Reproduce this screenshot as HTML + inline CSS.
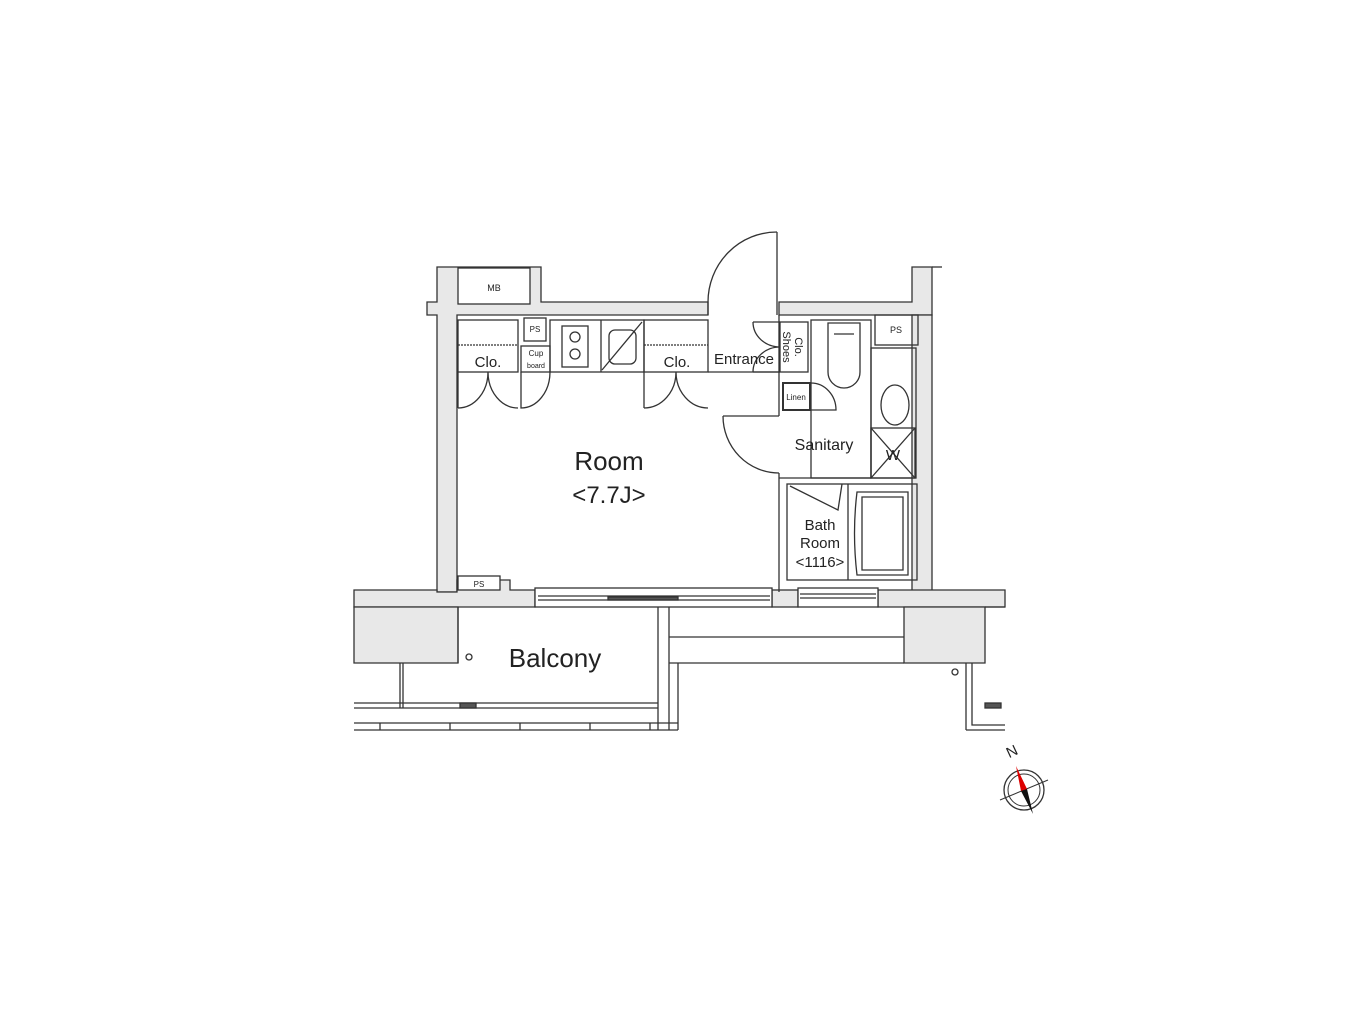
<!DOCTYPE html>
<html><head><meta charset="utf-8"><style>
html,body{margin:0;padding:0;background:#fff}
svg{display:block}
text{font-family:"Liberation Sans",sans-serif;fill:#222}
</style></head><body>
<svg width="1362" height="1017" viewBox="0 0 1362 1017" xmlns="http://www.w3.org/2000/svg">
<g stroke="#333" stroke-width="1.3" fill="none">
<path d="M427 302 H437 V267 H541 V302 H708 V315 H457 V592 H437 V315 H427 Z" fill="#e8e8e8"/>
<path d="M779 302 H912 V267 H932 V315 H779 Z" fill="#e8e8e8"/>
<path d="M912 315 H932 V592 H912 Z" fill="#e8e8e8"/>
<path d="M932 267 H942" />
<rect x="458" y="268" width="72" height="36" fill="#fff"/>
<text x="494" y="291" font-size="9" text-anchor="middle" stroke="none">MB</text>
<path d="M354 590 H437 V592 H457 V580 H510 V590 H535 V607 H354 Z" fill="#e8e8e8"/>
<rect x="772" y="590" width="26" height="17" fill="#e8e8e8"/>
<path d="M878 590 H1005 V607 H878 Z" fill="#e8e8e8"/>
<rect x="535" y="588" width="237" height="19" fill="#fff"/>
<line x1="538" y1="600" x2="770" y2="600"/>
<line x1="538" y1="596" x2="770" y2="596"/>
<rect x="608" y="597" width="70" height="3" fill="#555"/>
<rect x="798" y="588" width="80" height="19" fill="#fff"/>
<line x1="800" y1="598" x2="876" y2="598"/>
<line x1="800" y1="594" x2="876" y2="594"/>
<rect x="458" y="576" width="42" height="14" fill="#fff"/>
<text x="479" y="587" font-size="8" text-anchor="middle" stroke="none">PS</text>
<path d="M354 607 H458 V663 H354 Z" fill="#e8e8e8"/>
<path d="M904 607 H985 V663 H904 Z" fill="#e8e8e8"/>
<path d="M985 607 H1005" />
<path d="M458 607 V663"/>
<path d="M658 607 V730 M669 607 V730 M669 637 H904 M669 663 H904 M669 663 V730 M678 663 V730"/>
<path d="M354 703 H658 M354 708 H658 M354 723 H678 M354 730 H678"/>
<path d="M403 663 V708 M400 663 V708"/>
<path d="M380 723 V730 M450 723 V730 M520 723 V730 M590 723 V730 M650 723 V730"/>
<rect x="460" y="703" width="16" height="5" fill="#555"/>
<path d="M966 663 V730 M972 663 V725 H1005 M966 730 H1005"/>
<rect x="985" y="703" width="16" height="5" fill="#555"/>
<circle cx="469" cy="657" r="3"/>
<circle cx="955" cy="672" r="3"/>
<path d="M779 315 V416 M779 473 V592"/>
<path d="M708 302 V315 M777 302 V315"/>
<path d="M777 232 V302"/>
<path d="M708 302 A69 70 0 0 1 777 232"/>
<path d="M723 416 H779"/>
<path d="M723 416 A56 57 0 0 0 779 473"/>
<rect x="458" y="320" width="60" height="52"/>
<line x1="458" y1="345" x2="518" y2="345" stroke-dasharray="2 1"/>
<rect x="524" y="318" width="22" height="23"/>
<text x="535" y="332" font-size="8" text-anchor="middle" stroke="none">PS</text>
<rect x="521" y="346" width="29" height="26"/>
<rect x="550" y="320" width="94" height="52"/>
<rect x="562" y="326" width="26" height="41"/>
<circle cx="575" cy="337" r="5"/><circle cx="575" cy="354" r="5"/>
<line x1="601" y1="320" x2="601" y2="372"/>
<rect x="609" y="330" width="27" height="34" rx="6"/>
<line x1="602" y1="370" x2="642" y2="322"/>
<rect x="644" y="320" width="64" height="52"/>
<line x1="644" y1="345" x2="708" y2="345" stroke-dasharray="2 1"/>
<path d="M458 372 V408 M488 372 A30 36 0 0 1 458 408 M488 372 A30 36 0 0 0 518 408 M521 372 V408 A29 36 0 0 0 550 372"/>
<path d="M644 372 V408 M676 372 A32 36 0 0 1 644 408 M676 372 A32 36 0 0 0 708 408"/>
<path d="M708 372 H779"/>
<rect x="780" y="322" width="28" height="50"/>
<path d="M753 322 H780 M753 322 A27 25 0 0 0 780 347 M753 372 H780 M753 372 A27 25 0 0 1 780 347"/>
<rect x="811" y="320" width="60" height="158"/>
<path d="M828 323 H860 V372 A16 16 0 0 1 828 372 Z"/>
<line x1="834" y1="334" x2="854" y2="334"/>
<rect x="875" y="315" width="43" height="30"/>
<text x="896" y="333" font-size="9" text-anchor="middle" stroke="none">PS</text>
<rect x="871" y="348" width="45" height="130"/>
<ellipse cx="895" cy="405" rx="14" ry="20"/>
<rect x="871" y="428" width="44" height="50"/>
<path d="M871 428 L915 478 M915 428 L871 478"/>
<rect x="783" y="383" width="27" height="27" stroke-width="2"/>
<path d="M811 383 A25 27 0 0 1 836 410 H811"/>
<path d="M779 478 H871"/>
<rect x="787" y="484" width="130" height="96"/>
<line x1="848" y1="484" x2="848" y2="580"/>
<path d="M857 492 H908 V575 H857 Q852 533 857 492 Z" />
<path d="M862 497 H903 V570 H862 Z" />
<path d="M790 486 L838 510 L842 484"/>
</g>
<g stroke="none">
<text x="488" y="367" font-size="15" text-anchor="middle">Clo.</text>
<text x="536" y="356" font-size="8" text-anchor="middle">Cup</text>
<text x="536" y="368" font-size="7" text-anchor="middle">board</text>
<text x="677" y="367" font-size="15" text-anchor="middle">Clo.</text>
<text x="744" y="364" font-size="15" text-anchor="middle">Entrance</text>
<text transform="translate(783,347) rotate(90)" font-size="11" text-anchor="middle">Shoes</text>
<text transform="translate(795,347) rotate(90)" font-size="11" text-anchor="middle">Clo.</text>
<text x="796" y="400" font-size="8" text-anchor="middle">Linen</text>
<text x="824" y="450" font-size="16" text-anchor="middle">Sanitary</text>
<text x="893" y="460" font-size="15" text-anchor="middle">W</text>
<text x="820" y="530" font-size="15" text-anchor="middle">Bath</text>
<text x="820" y="548" font-size="15" text-anchor="middle">Room</text>
<text x="820" y="567" font-size="15" text-anchor="middle">&lt;1116&gt;</text>
<text x="609" y="470" font-size="26" text-anchor="middle">Room</text>
<text x="609" y="503" font-size="24" text-anchor="middle">&lt;7.7J&gt;</text>
<text x="555" y="667" font-size="26" text-anchor="middle">Balcony</text>
<text transform="translate(1014,756) rotate(-25)" font-family="Liberation Serif" font-size="15" text-anchor="middle">N</text>
</g>
<g>
<circle cx="1024" cy="790" r="20" fill="none" stroke="#333" stroke-width="1.3"/>
<circle cx="1024" cy="790" r="16" fill="none" stroke="#333" stroke-width="1"/>
<line x1="1000" y1="800" x2="1048" y2="780" stroke="#333"/>
<polygon points="1016,766 1027,789 1021,791" fill="#d00"/>
<polygon points="1021,791 1027,789 1033,814" fill="#111"/>
</g>
</svg>
</body></html>
